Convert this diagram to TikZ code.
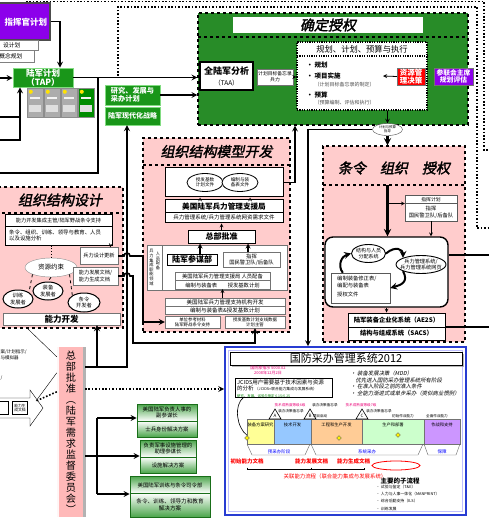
\documentclass[tikz,border=0pt]{standalone}
\usepackage{fontspec}
\setmainfont{Noto Sans CJK SC}
\newfontfamily\ttlfont{Noto Sans CJK SC}[FakeSlant=0.2,FakeBold=2]
\newfontfamily\itfont{Noto Sans CJK SC}[FakeSlant=0.2]
\usetikzlibrary{shapes.geometric,calc,shadows}
\newcommand{\fsz}[2]{\fontsize{#1}{#2}\selectfont}
\definecolor{vio}{RGB}{140,0,235}
\definecolor{tapgreen}{RGB}{25,150,25}
\definecolor{tapedge}{RGB}{130,220,130}
\definecolor{authgreen}{RGB}{40,140,40}
\definecolor{pinkbg}{RGB}{255,204,204}
\definecolor{arocpink}{RGB}{255,185,185}
\definecolor{damsblue}{RGB}{40,60,210}
\definecolor{magtext}{RGB}{235,0,120}
\definecolor{gbar}{RGB}{75,165,75}
\definecolor{gbdark}{RGB}{25,110,25}
\definecolor{phA}{RGB}{255,255,150}
\definecolor{phB}{RGB}{150,200,255}
\definecolor{phC}{RGB}{255,204,150}
\definecolor{phD}{RGB}{204,255,204}
\definecolor{phE}{RGB}{204,150,255}
\tikzset{
  box/.style={draw, fill=white, inner sep=0pt, align=center},
  thk/.style={line width=1.6pt},
  arr/.style={->, >=stealth, line width=1.6pt},
  sarr/.style={->, >=stealth, line width=0.7pt},
  region/.style={draw, dashed, line width=1.1pt, fill=pinkbg, inner sep=0pt},
  ttl/.style={font=\ttlfont\fsz{14}{15}},
  dots/.style={line width=1.6pt, dash pattern=on 1.6pt off 1.8pt},
  oval/.style={ellipse, draw, fill=white, inner sep=0pt},
  gbox/.style={draw=gbdark, line width=0.8pt, inner sep=0pt},
}
\begin{document}
\begin{tikzpicture}[x=1pt,y=-1pt]
\useasboundingbox (0,0) rectangle (488,518);

% dotted frames
\draw[dots] (25,4) -- (25,1.5) -- (484,1.5) -- (484,150) -- (490,150);
\draw[dots] (118,76) -- (118,7) -- (477,7) -- (477,228) -- (490,228);

% top left
\node[draw=black!70, line width=1.2pt, fill=vio, minimum width=56, minimum height=37, inner sep=0pt] (cdrp) at (22,21.5) {};
\node[anchor=west, text=white, font=\bfseries\fsz{8.5}{9}] (cdrt) at (1,22) {指挥官计划};
\node[box, draw=black!50, minimum width=44, minimum height=10] (dsgn) at (16,45) {};
\node[anchor=east, font=\fsz{5.8}{6}] (dsgnt) at (24,45) {设计划};
\node[box, draw=black!50, minimum width=40, minimum height=12] (cncp) at (14,56) {};
\node[anchor=east, font=\fsz{5.8}{6}] (cncpt) at (26,56) {概念规划};

% army plan
\node[draw=tapedge, line width=0.8pt, fill=tapgreen, text=white, minimum width=60, minimum height=19, inner sep=0pt, align=center, font=\bfseries\fsz{8.5}{9}] (tap) at (43,77.5) {陆军计划\\（TAP）};
\foreach \i in {0,...,3} {
  \ifnum\i=3 \def\icol{green!55!black}\else\def\icol{gray!65}\fi
  \node[draw=black!45, fill=\icol, minimum width=16, minimum height=29, inner sep=0pt] (tapd\i) at ({35+17*\i},102.5) {};
  \fill[yellow!85!orange] ($(tapd\i.north west)+(4,4)$) circle (2pt);
  \fill[white!90!gray] ($(tapd\i.north west)+(3,9)$) rectangle ++(10,2.5);
  \fill[white!75!gray] ($(tapd\i.north west)+(2,17)$) rectangle ++(12,7);
}
\node[draw=tapedge, fill=tapgreen, text=white, minimum width=55, minimum height=18, inner sep=2pt, align=left, font=\bfseries\fsz{7.2}{8.5}] (rda) at (132.5,95) {研究、发展与\\采办计划};
\node[draw=tapedge, fill=tapgreen, text=white, minimum width=55, minimum height=18, inner sep=0pt, font=\bfseries\fsz{7}{8}] (ams) at (132.5,116) {陆军现代化战略};

% determine authorizations
\node[draw, dashed, line width=1.1pt, fill=authgreen, minimum width=270, minimum height=112, inner sep=0pt] (grn) at (333,69) {};
\draw[dashed, line width=1.1pt] (198,37) -- (468,37);
\node[box, draw=none, minimum width=190, minimum height=16, ttl] (auth) at (328,25) {确定授权};
\node[box, line width=1.5pt, minimum width=53, minimum height=28, font=\bfseries\fsz{9}{11}] (taa) at (226.5,76) {全陆军分析\\{\mdseries\fsz{6.5}{7}（TAA）}};
\node[box, draw=black!55, minimum width=36, minimum height=16, font=\fsz{4.8}{6}] (pomf) at (275,77) {计划目标备忘录\\兵力};
\node[draw, fill=white, line width=1.2pt, dash pattern=on 1.2pt off 1.2pt, minimum width=130, minimum height=68, inner sep=0pt] (ppbe) at (362,76) {};
\node[font=\fsz{8.3}{9}] (ppbeh) at (362,49) {规划、计划、预算与执行};
\draw[line width=1.2pt, dash pattern=on 1.2pt off 1.2pt] (297,56) -- (427,56);
\node[anchor=west, font=\bfseries\fsz{6.5}{7}] (pl1) at (303,65) {• 规划};
\node[anchor=west, font=\bfseries\fsz{6.5}{7}] (pl2) at (303,76) {• 项目实施};
\node[anchor=west, font=\fsz{5}{6}, text=black!70] (pl2s) at (311,85) {（计划目标备忘录的制定）};
\node[anchor=west, font=\bfseries\fsz{6.5}{7}] (pl3) at (303,95) {• 预算};
\node[anchor=west, font=\fsz{5}{6}, text=black!70] (pl3s) at (311,103) {（预算编制、评估和执行）};
\node[draw=black!55, fill=red, text=white, minimum width=28, minimum height=17, inner sep=0pt, align=center, font=\bfseries\fsz{7.5}{8}] (rmd) at (411,76.5) {资源管\\理决策};
\node[draw=black!55, fill=vio, text=white, minimum width=39, minimum height=17, inner sep=0pt, align=center, font=\bfseries\fsz{6.8}{7.6}] (cjcs) at (453.5,76.5) {参联会主席\\规划评估};
\coordinate (pl2e) at (383,76);
\node[oval, draw=black!70, minimum width=30, minimum height=12] (pbg) at (387.5,129.5) {};
\node[align=center, font=\fsz{3.4}{3.8}] (pbgt) at (pbg) {计划与预算\\指导};

% organization design
\node[region, minimum width=127, minimum height=141] (des) at (59.5,257.5) {};
\node[ttl] (dest) at (60,200) {组织结构设计};
\draw[dashed, line width=1.1pt] (-4,213) -- (123,213);
\node[box, line width=1pt, minimum width=107, minimum height=30] (cd) at (58.5,230) {};
\node[font=\fsz{5.2}{6}] (cdh) at (58.5,220.5) {能力开发集成主管/陆军野战条令支持};
\draw[line width=1pt] (5,226.5) -- (112,226.5);
\node[anchor=north west, align=left, inner sep=0pt, font=\fsz{5.4}{6.3}] (cdb) at (9,229.5) {条令、组织、训练、领导与教育、人员\\以及设施分析};
\node[oval, draw=black!45, minimum width=52, minimum height=19] (rc) at (51,267.5) {};
\node[font=\fsz{6.5}{7}] (rct) at (rc) {资源约束};
\node[box, draw=black!55, minimum width=38, minimum height=17, font=\fsz{5.2}{6}] (fdu) at (99,256) {兵力设计更新};
\node[box, draw=black!55, minimum width=45, minimum height=18, align=left, font=\fsz{5.2}{6.6}] (cdd) at (95.5,276) {能力发展文档/\\能力生成文档};
\node[oval, line width=1pt, minimum width=30, minimum height=18] (td) at (18,299) {};
\node[align=center, font=\fsz{5.3}{6.2}] (tdt) at (td) {训练\\发展者};
\node[oval, line width=1pt, minimum width=30, minimum height=18] (md) at (48,291) {};
\node[align=center, font=\fsz{5.3}{6.2}] (mdt) at (md) {装备\\发展者};
\node[oval, line width=1pt, minimum width=32, minimum height=19] (dd) at (84,302.5) {};
\node[align=center, font=\fsz{5.3}{6.2}] (ddt) at (dd) {条令\\开发者};
\draw[dashed, thick] (rc.south west) -- (td.north east);
\draw[dashed, thick] (rc.south) -- (md.north);
\draw[dashed, thick] (rc.south east) -- (dd.north west);
\draw[dotted, thick] (cd.south -| rc.north) -- (rc.north);
\draw[sarr] ($(cd.south east)+(-2,0)$) -- ($(fdu.north east)+(-8,0)$);
\node[box, draw=black!55, minimum width=117, minimum height=12, font=\bfseries\fsz{8.5}{9}] (cap) at (61.5,319) {能力开发};

% organization model development
\node[region, minimum width=147, minimum height=194] (org) at (216.5,235) {};
\node[ttl] (orgt) at (216.5,151.5) {组织结构模型开发};
\draw[dashed, line width=1.1pt] (143,165) -- (290,165);
\node[box, line width=1pt, minimum width=118, minimum height=29] (bfx) at (224,182.5) {};
\node[oval, line width=0.8pt, minimum width=36, minimum height=18] (bfa) at (205,182.5) {};
\node[align=center, font=\fsz{4.6}{5.4}] (bfat) at (bfa) {授发基数\\计划文件};
\node[oval, line width=0.8pt, minimum width=36, minimum height=18] (bfb) at (240,182.5) {};
\node[align=center, font=\fsz{4.6}{5.4}] (bfbt) at (bfb) {编制与装\\备表文件};
\node[box, line width=1pt, minimum width=118, minimum height=23] (fms) at (224,211.5) {};
\node[font=\bfseries\fsz{7.6}{8}] (fmsa) at (224,206.3) {美国陆军兵力管理支援局};
\draw (165,212.5) -- (283,212.5);
\node[font=\fsz{5.5}{6}] (fmsb) at (224,218) {兵力管理系统/兵力管理系统网资需求文件};
\node[box, line width=1pt, minimum width=67, minimum height=13, font=\bfseries\fsz{8}{8.5}] (hqa) at (221.5,236.5) {总部批准};
\node[box, draw=black!55, minimum width=140, minimum height=45] (fi) at (217,267.5) {};
\draw[black!55] (162,245) -- (162,290);
\node[align=center, inner sep=0pt, font=\fsz{4.2}{4.6}] (fiv) at (151.5,267.5) {兵\\力\\集\\成\\职\\能\\领\\域};
\node[align=center, inner sep=0pt, font=\fsz{4.2}{4.6}] (fiw) at (158,261) {人\\员\\配\\备};
\node[box, line width=1pt, minimum width=50, minimum height=11, font=\bfseries\fsz{8}{8.5}] (asf) at (192,259.5) {陆军参谋部};
\node[box, draw=black!55, minimum width=57, minimum height=15, font=\fsz{5.3}{6.2}] (cmdb) at (251.5,259.5) {指挥\\国民警卫队/后备队};
\node[box, draw=black!55, minimum width=95, minimum height=17] (usf) at (222.5,280.5) {};
\node[font=\fsz{5.3}{6}] (usfa) at (222.5,276.3) {美国陆军兵力管理支援局\ 人员配备};
\draw[black!55] (175,280.5) -- (270,280.5);
\node[font=\fsz{5.3}{6}] (usfb) at (222.5,285) {编制与装备表\qquad 授发基数计划};
\node[box, draw=black!55, minimum width=120, minimum height=16] (sup) at (225,306) {};
\node[font=\fsz{5.5}{6}] (supa) at (225,302) {美国陆军兵力管理支持机构开发};
\draw[black!55] (165,306) -- (285,306);
\node[font=\fsz{5.5}{6}] (supb) at (225,310.2) {编制与装备表\&授发基数计划};
\node[box, draw=black!55, minimum width=55, minimum height=12, font=\fsz{4.4}{5}] (ur) at (192.5,322) {单位参考材料\\陆军野战条令支持};
\node[box, draw=black!55, minimum width=60, minimum height=12, font=\fsz{4.4}{5}] (boip) at (255,322) {授发基数计划支线数据\\计划主管};
\draw[sarr] ($(fms.north)+(-24,0)$) -- ($(bfx.south)+(-24,0)$);
\draw[sarr] ($(fms.north)+(26,0)$) -- ($(bfx.south)+(26,0)$);
\draw[sarr] (hqa.north) -- (hqa.north |- fms.south);
\coordinate (asfu) at (200,254);
\coordinate (cmdu) at (248,252);
\draw[->, >=stealth, line width=1.2pt] (asfu) -- (asfu |- hqa.south);
\draw[->, >=stealth, line width=1.2pt] (cmdu) -- (cmdu |- hqa.south);
\draw[sarr] (usf.south |- sup.north) -- (usf.south);

% doctrine, organization, authorization
\node[region, minimum width=142, minimum height=196] (doc) at (394,244) {};
\node[ttl] (doct) at (394,168) {条令\quad 组织\quad 授权};
\draw[dashed, line width=1.1pt] (323,185) -- (465,185);
\node[box, draw=black!65, minimum width=52, minimum height=26] (cp) at (431,208) {};
\node[font=\fsz{4.8}{5}] (cpa) at (431,199.5) {指挥计划};
\draw[black!65] (405,203.5) -- (457,203.5);
\node[align=center, font=\fsz{5.3}{7}] (cpb) at (431,212.5) {指挥\\国民警卫队/后备队};
\node[draw, fill=white, line width=1.4pt, rounded corners=8pt, minimum width=123, minimum height=70] (rb) at (386.5,272) {};
\node[oval, line width=0.9pt, minimum width=34, minimum height=18] (se) at (368.5,253.5) {};
\node[align=center, font=\fsz{5}{5.8}] (set) at (se) {结构与人员\\分配系统};
\node[oval, line width=0.9pt, minimum width=50, minimum height=18] (fe) at (421,264.5) {};
\node[align=center, font=\fsz{5.2}{6}] (fet) at (fe) {兵力管理系统/\\兵力管理系统网页};
\node[box, draw=black!65, minimum width=59, minimum height=30] (mt) at (360.5,288) {};
\node[anchor=north west, align=left, inner sep=0pt, font=\fsz{5.3}{7}] (mtt) at (337,275.5) {编制装备修正表/\\编配与装备表\\[2.5pt]授权文件};
\node[box, line width=1pt, minimum width=97, minimum height=27] (ae) at (396.5,326.5) {};
\node[font=\bfseries\fsz{6.3}{7}] (aea) at (396.5,320.3) {陆军装备企业化系统（AE2S）};
\draw[line width=1pt] (348,327) -- (445,327);
\node[font=\bfseries\fsz{6.3}{7}] (aeb) at (396.5,333.5) {结构与组成系统（SACS）};
\draw[->, >=stealth, line width=2pt] (se.east) .. controls (396,245) and (403,250) .. (fe.north west);
\draw[->, >=stealth, line width=2pt] (fe.south west) .. controls (409,282) and (401,285) .. (mt.east);
\draw[->, >=stealth, line width=2pt] ($(mt.north west)+(12,0)$) .. controls (337,265) and (342,256) .. (se.west);

% army requirements oversight council
\node[fill=arocpink, minimum width=28, minimum height=170, inner sep=0pt, align=center, font=\fsz{10.2}{11}] (aroc) at (71,432) {总\\部\\批\\准\\︵\\陆\\军\\需\\求\\监\\督\\委\\员\\会\\︶};
\fill[black!30] (83,347) rectangle (86,517);
\fill[white!85!pink] (57,347) rectangle (59,517);
\node[anchor=west, font=\fsz{4.5}{5}] (frg1) at (-3,352) {案/计划指示/};
\node[anchor=west, font=\fsz{4.5}{5}] (frg2) at (-3,358) {与模拟器};
\node[anchor=west, font=\fsz{4.5}{5}] (frg3) at (-3,378) {/};
\draw[fill=white] (-3,398) -- (30,398) -- (30,390) -- (43,408) -- (30,426) -- (30,418) -- (-3,418) -- cycle;
\node[box, minimum width=12, minimum height=13] (wa1) at (2,408) {};
\node[box, minimum width=15, minimum height=13, font=\fsz{3.8}{4.4}] (wa2) at (20,408) {能力生\\成文档};
\coordinate (cl1) at (28,329);
\coordinate (cl2) at (36,401);
\draw (cl1) -- ($(aroc.north west)+(0,10)$);
\draw (cl2) -- ($(aroc.north west)+(0,26)$);
\draw[dots] ($(aroc.north west)+(0,45)$) -- (cl2);

% solution boxes
\shade[top color=gbar, bottom color=white] (137,404) rectangle (197,421);
\shade[top color=white, bottom color=gbar] (137,421) rectangle (197,437);
\node[gbox, minimum width=60, minimum height=33] (gb1) at (167,420.5) {};
\draw[gbdark] (137,421) -- (197,421);
\node[align=center, font=\fsz{5.4}{6.5}] (gb1a) at (167,412.5) {美国陆军负责人事的\\副参谋长};
\node[font=\fsz{5.4}{6}] (gb1b) at (167,429) {士兵身份解决方案};
\shade[top color=gbar, bottom color=white] (140,440) rectangle (196,457);
\shade[top color=white, bottom color=gbar] (140,457) rectangle (196,473);
\node[gbox, minimum width=56, minimum height=33] (gb2) at (168,456.5) {};
\draw[gbdark] (140,457) -- (196,457);
\node[align=center, font=\fsz{5.4}{6.5}] (gb2a) at (168,448.5) {负责军事设施管理的\\助理参谋长};
\node[font=\fsz{5.4}{6}] (gb2b) at (168,465) {设施解决方案};
\shade[top color=gbar, bottom color=white] (130,476) rectangle (210,493);
\shade[top color=white, bottom color=gbar] (130,493) rectangle (210,517);
\node[gbox, minimum width=80, minimum height=41] (gb3) at (170,496.5) {};
\draw[gbdark] (130,493) -- (210,493);
\node[font=\fsz{5.4}{6}] (gb3a) at (170,485) {美国陆军训练与条令司令部};
\node[align=center, font=\fsz{5.6}{6.8}] (gb3b) at (170,505) {条令、训练、领导力和教育\\解决方案};

% defense acquisition management system
\node[draw=damsblue, line width=1.6pt, fill=white, minimum width=241, minimum height=168, inner sep=0pt] (dams) at (345.5,431) {};
\draw[blue!25, line width=1pt] (228.5,350.5) rectangle (462.5,511.5);
\node[box, minimum width=232, minimum height=13, drop shadow={shadow xshift=1.5pt, shadow yshift=-1.5pt, fill=black!55}, font=\fsz{11}{12}] (dt) at (346,358.5) {国防采办管理系统2012};
\node[align=center, text=magtext, font=\fsz{4}{4.8}] (dodi) at (268,370.5) {国防部指示\ 5000.02\\2008年12月2日};
\node[box, line width=1pt, minimum width=97, minimum height=19] (jc) at (283.5,387.5) {};
\node[anchor=north west, align=left, inner sep=0pt, font=\fsz{5.5}{6.5}] (jct) at (237,379.5) {JCIDS用户需要基于技术因素与资源\\的分析\ {\fsz{3.8}{4}（JCIDS=联合能力集成与发展系统）}\\{\color{green!50!black}\fsz{3.4}{4}研究、发展、试验与鉴定\ 6.1S/6.2S}};
\node[anchor=west, align=left, font=\itfont\fsz{5.4}{6.7}] (mdd) at (347,383.5) {• 装备发展决策（MDD）\\\hspace{5pt}优先进入国防采办管理系统所有阶段\\• 在准入阶段之前的准入条件\\• 全能力渐进式或单步采办（类似商业惯例）};
\foreach \n/\c/\xa/\xb/\t in {1/phA/247/274/装备方案研究, 2/phB/274/311/技术开发, 3/phC/311/362/工程和生产开发, 4/phD/362/424/生产和部署, 5/phE/424/460/作战和支持} {
  \node[draw=black!55, fill=\c, minimum width={\xb-\xa}, minimum height=25, inner sep=0pt] (ph\n) at ({(\xa+\xb)/2},431.5) {};
  \node[font=\fsz{4.3}{5}] (pht\n) at ({(\xa+\xb)/2},425) {\t};
}
\foreach \l/\x in {A/275,B/310,C/362} {
  \draw[fill=white, line width=0.6pt] ({\x-6},419) -- (\x,409) -- ({\x+6},419) -- cycle;
  \node[font=\fsz{4.5}{5}] (ms\l) at (\x,415.8) {\l};
}
\node[text=magtext, font=\fsz{3.6}{4}] (trl6) at (290,405.5) {技术成熟度等级6级};
\node[font=\fsz{3.6}{4}] (mdm1) at (291,411.5) {装办决策备忘录};
\node[font=\fsz{3.6}{4}] (mdm2) at (325,405.5) {装办决策备忘录};
\node[font=\fsz{3.6}{4}] (pgi) at (320,416) {项目启动};
\node[text=magtext, font=\fsz{3.6}{4}] (trl7) at (361,405.5) {技术成熟度等级7级};
\node[font=\fsz{3.6}{4}] (mdm3) at (379,411.5) {装办决策备忘录};
\node[font=\fsz{3.6}{4}] (ioc) at (403,416) {初始作战能力};
\node[font=\fsz{3.6}{4}] (foc) at (437,416) {全面作战能力};
\foreach \x/\y [count=\k] in {247/438,339/438,398/435} {
  \node[diamond, draw=black!60, fill=yellow, minimum size=5, inner sep=0pt] (dm\k) at (\x,\y) {};
}
\coordinate (jcs) at (244,397);
\draw[line width=0.6pt] (jcs) .. controls (233,405) and (237,428) .. (dm1.north);
\draw[black!60] (247,444) -- (252,455) -- (305,455) -- (310,444);
\draw[black!60] (311,444) -- (316,455) -- (418,455) -- (423,444);
\draw[black!60] (424,444) -- (428,455) -- (456,455) -- (460,444);
\node[text=blue, font=\fsz{4.5}{5}] (pre) at (279,451.5) {预采办阶段};
\node[text=blue, font=\fsz{4.5}{5}] (sys) at (367,451.5) {系统采办};
\node[text=blue, font=\fsz{4.5}{5}] (sust) at (442,451.5) {保障};
\node[text=red, font=\bfseries\fsz{5.5}{6}] (icd) at (247,461.5) {初始能力文档};
\node[text=red, font=\bfseries\fsz{5.5}{6}] (cddd) at (311.5,461.5) {能力发展文档};
\node[text=red, font=\bfseries\fsz{5.5}{6}] (cpdd) at (353.5,461.5) {能力生成文档};
\node[ellipse, draw=red, line width=0.8pt, minimum width=48, minimum height=9, inner sep=0pt] (cba) at (396,465.5) {};
\coordinate (bk) at (364,469.5);
\draw[line width=0.6pt] (icd.south) |- (bk) -- (bk |- cpdd.south);
\draw[line width=0.6pt] (cddd.south) -- (cddd.south |- bk);
\node[text=red, font=\fsz{5.4}{6}] (jcf) at (335,476) {关联能力流程（联合能力集成与发展系统）};
\node[font=\bfseries\fsz{6.5}{7}] (subp) at (400,481) {主要的子流程};
\node[anchor=north west, align=left, inner sep=0pt, font=\fsz{3.9}{7.2}] (subl) at (376,485) {• 试验与鉴定（T\&E）\\• 人力与人事一体化（MANPRINT）\\• 综合后勤支持（ILS）\\• 训练发展};

% connectors
\draw[arr] (cdrp.east) -| ($(tap.north)+(17,0)$);
\coordinate (lin) at (0,78);
\coordinate (lu) at (0,117);
\coordinate (ld) at (0,140);
\coordinate (tapb) at (20,140);
\coordinate (tapj) at (98,77.5);
\coordinate (lb) at (0,173);
\draw[arr] (lin) -- (lin -| tap.west);
\draw[thk] (lu) -- (lu -| tapb);
\draw[arr] (ld) -| (tap.south -| tapb);
\draw[arr] (tap.east) -- (tap.east -| grn.west);
\draw[thk] (tapj) |- (lb);
\draw[arr] (rda.east) -- (rda.east -| grn.west);
\draw[->, >=stealth, line width=0.8pt] (pomf.east) -- (pomf.east -| ppbe.west);
\draw[->, >=stealth, line width=0.8pt] (rmd.west) -- (pl2e);
\draw[->, >=stealth, line width=1pt] (ppbe.south -| pbg.north) -- (pbg.north);
\draw[arr, line width=2.2pt] (pbg.south) -- (pbg.south |- doc.north);
\coordinate (dtop) at (387.5,185);
\coordinate (cpj) at (387.5,203.5);
\draw[arr, line width=2.2pt] (dtop) -- (dtop |- rb.north);
\draw[sarr] (cpj) -- (cpj -| cp.west);
\draw[sarr] (cp.south) -- (cp.south |- rb.north);
\draw[sarr] (rb.south) -- (rb.south |- ae.north);
\coordinate (re1) at (490,255);
\coordinate (re2) at (490,327);
\draw[thk] (rb.east |- re1) -- (re1);
\draw[thk] (ae.east |- re2) -- (re2);
\coordinate (pgw) at (308,129.5);
\draw[arr] (pbg.west) -- (pgw) -- (pgw |- dams.north);
\coordinate (bfr) at (295,182.5);
\draw[arr] (bfx.east) -- (bfr) -- (bfr |- grn.south);
\coordinate (fdr) at (143,256);
\draw[arr] (fdu.east) -- (124,256) arc[start angle=180, end angle=0, radius=3pt] -- (fdr) |- (ur.west);
\coordinate (cdr) at (133,276);
\coordinate (cdb2) at (133,343);
\draw[arr] (cdd.east) -- (124,276) arc[start angle=180, end angle=0, radius=3pt] -- (cdr) -- (cdb2) -- (cdb2 -| boip.south) -- (boip.south);
\coordinate (arr1) at (85,367);
\coordinate (v127) at (127,367);
\coordinate (v97) at (97,367);
\draw[arr] (arr1) -- (v127) -- (v127 |- ams.south);
\draw[arr] (v97) -- (v97 |- cap.south);
\coordinate (ardot) at (85,389);
\draw[->, >=stealth, dots] (ardot) -- (ardot -| dams.west);
\coordinate (arg) at (85,456);
\coordinate (gj) at (97,456);
\coordinate (gt) at (97,418);
\coordinate (gbt) at (97,494);
\draw[thk] (arg) -- (gj);
\draw[thk] (gt) -- (gbt);
\draw[arr] (gt) -- (gt -| gb1.west);
\draw[arr] (gj) -- (gj -| gb2.west);
\draw[arr] (gbt) -- (gbt -| gb3.west);
\end{tikzpicture}
\end{document}
